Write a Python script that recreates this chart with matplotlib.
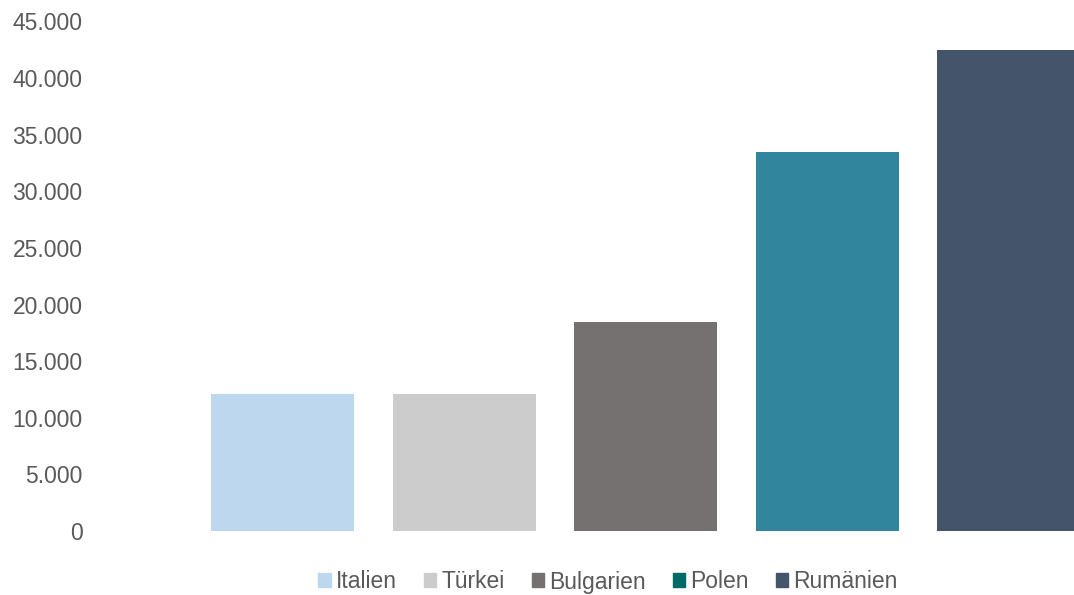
import matplotlib
matplotlib.use('Agg')
import matplotlib.pyplot as plt
from matplotlib.patches import Patch
from matplotlib.ticker import FuncFormatter, MultipleLocator

plt.rcParams['font.family'] = ['Liberation Sans', 'DejaVu Sans']

# countries and values
laender = ['Italien', 'Türkei', 'Bulgarien', 'Polen', 'Rumänien']
werte = [12100, 12100, 18500, 33500, 42500]
balken_farben = ['#BDD7EE', '#CCCCCC', '#767171', '#31859C', '#44546A']
legenden_farben = ['#BDD7EE', '#CCCCCC', '#767171', '#006B66', '#44546A']

W, H = 1074, 595
step = 181.5  # px between bar centres
fig = plt.figure(figsize=(W / 100, H / 100), dpi=100)
ax = fig.add_axes([95 / W, 64 / H, 1 - 95 / W, (531 - 21.5) / H])

pos = list(range(len(laender)))
ax.bar(pos, werte, width=143 / step, color=balken_farben)

ax.set_ylim(0, 45000)
ax.set_xlim(-(282.5 - 95) / step, (1074 - 282.5) / step)
ax.yaxis.set_major_locator(MultipleLocator(5000))
ax.yaxis.set_major_formatter(FuncFormatter(lambda v, p: f'{int(v):,}'.replace(',', '.')))
ax.tick_params(axis='y', length=0, pad=9, labelsize=16.5, labelcolor='#595959')
ax.set_xticks([])
for s in ax.spines.values():
    s.set_visible(False)

handles = [Patch(color=c, label=l) for c, l in zip(legenden_farben, laender)]
fig.legend(handles=handles, loc='center', bbox_to_anchor=(608 / W, 1 - 582 / H), ncol=5,
           frameon=False, fontsize=16.5, labelcolor='#595959',
           handlelength=0.55, handleheight=0.55, handletextpad=0.22, columnspacing=1.17)

plt.savefig('out.png', dpi=100)
